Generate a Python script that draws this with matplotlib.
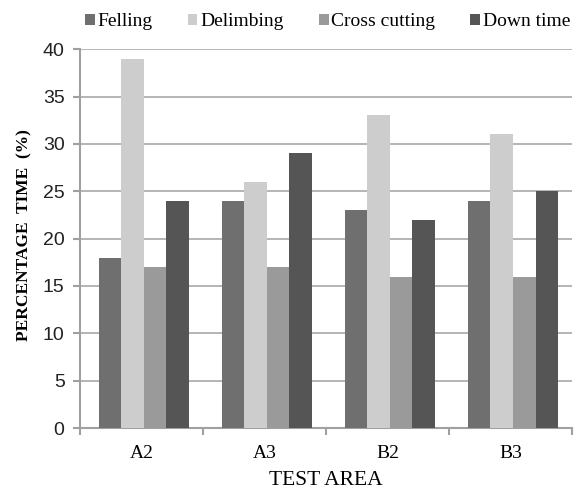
import matplotlib
matplotlib.use("Agg")
import matplotlib.pyplot as plt
import numpy as np

categories = ["A2", "A3", "B2", "B3"]
series_names = ["Felling", "Delimbing", "Cross cutting", "Down time"]
felling = [18, 24, 23, 24]
delimbing = [39, 26, 33, 31]
cross_cutting = [17, 17, 16, 16]
down_time = [24, 29, 22, 25]
series = [felling, delimbing, cross_cutting, down_time]
colors = ["#6f6f6f", "#cdcdcd", "#9a9a9a", "#555555"]

fig = plt.figure(figsize=(5.79, 4.92), dpi=100)
ax = fig.add_axes([0.138, 0.130, 0.850, 0.770])

x = np.arange(len(categories))
w = 0.183
for i, (vals, name, c) in enumerate(zip(series, series_names, colors)):
    ax.bar(x + (i - 1.5) * w + 0.02, vals, w, color=c, label=name, zorder=3)

ax.set_xlim(-0.5, len(categories) - 0.5)
ax.set_ylim(0, 40)
ax.set_yticks(range(0, 41, 5))
ax.yaxis.grid(True, color="#a8a8a8", linewidth=1.2, zorder=0)
ax.set_axisbelow(True)

for s in ["top", "right"]:
    ax.spines[s].set_visible(False)
for s in ["left", "bottom"]:
    ax.spines[s].set_color("#a0a0a0")
    ax.spines[s].set_linewidth(1.5)

ax.set_xticks(x)
ax.set_xticklabels(categories, fontfamily="Liberation Serif", fontsize=14)
ax.tick_params(axis="x", length=0, pad=12)
ax.set_xticks(np.arange(-0.5, len(categories), 1.0), minor=True)
ax.tick_params(axis="x", which="minor", length=5, color="#a0a0a0", width=1.5)
ax.tick_params(axis="y", length=5, color="#a0a0a0", width=1.5, labelsize=14, pad=6)
for lab in ax.get_yticklabels():
    lab.set_fontfamily("Liberation Sans")
    lab.set_color("#222222")

ax.set_xlabel("TEST AREA", fontfamily="Liberation Serif", fontsize=15.5, labelpad=7)
ax.set_ylabel("PERCENTAGE  TIME  (%)", fontfamily="Liberation Serif",
              fontsize=12.5, fontweight="bold")
ax.yaxis.set_label_coords(-0.097, 0.51)

fig.legend(*ax.get_legend_handles_labels(), loc="center left",
           bbox_to_anchor=(85 / 579, 1 - 22 / 492), bbox_transform=fig.transFigure,
           ncol=4, frameon=False,
           prop={"family": "Liberation Serif", "size": 14}, handlelength=0.5,
           handleheight=0.5, handletextpad=0.15, columnspacing=1.8,
           borderaxespad=0, borderpad=0)

fig.savefig("out.png", dpi=100)
